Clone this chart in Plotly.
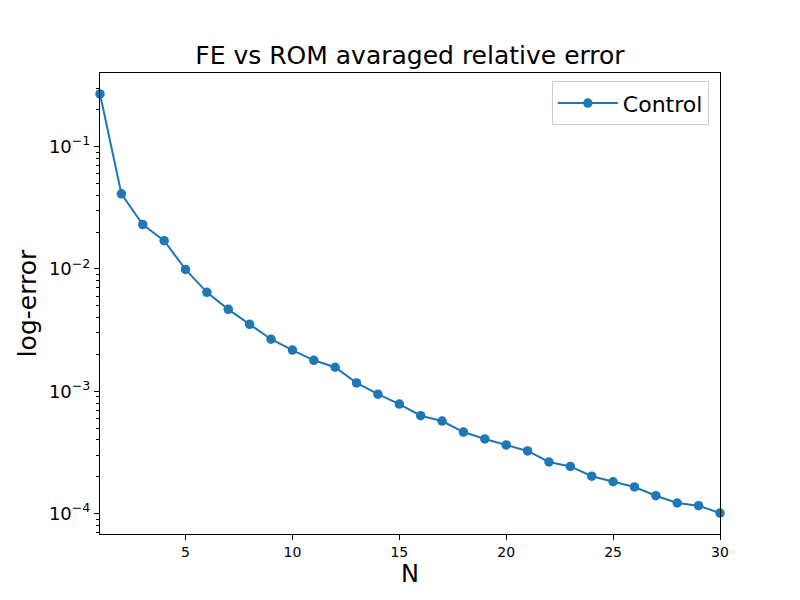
import numpy as np
import plotly.graph_objects as go

# reduced basis size
n_values = list(range(1, 31))

# averaged relative error FE vs ROM
control_error = [
    0.269, 0.0411, 0.0230, 0.0170, 0.00989, 0.00643, 0.00467, 0.00352, 0.00266, 0.00217,
    0.00179, 0.00157, 0.00117, 0.000946, 0.000785, 0.000631, 0.000571, 0.000464, 0.000407, 0.000364,
    0.000325, 0.000264, 0.000243, 0.000202, 0.000182, 0.000165, 0.000140, 0.000122, 0.000116, 0.000101,
]

y_tick_vals = [1e-4, 1e-3, 1e-2, 1e-1]
y_tick_text = ["10<sup>\u22124</sup>", "10<sup>\u22123</sup>", "10<sup>\u22122</sup>", "10<sup>\u22121</sup>"]
x_tick_vals = [5, 10, 15, 20, 25, 30]

blue = "#1f77b4"
font = "DejaVu Sans"

# matplotlib-like 5% margin in log space
lo, hi = np.log10(min(control_error)), np.log10(max(control_error))
pad = 0.05 * (hi - lo)

fig = go.Figure()
fig.add_trace(go.Scatter(
    x=n_values, y=control_error,
    mode="lines+markers",
    name="Control",
    line=dict(color=blue, width=2),
    marker=dict(color=blue, size=9.5),
    cliponaxis=False,
))

fig.update_layout(
    width=800, height=600,
    margin=dict(l=92, r=88, t=65, b=74),
    plot_bgcolor="white", paper_bgcolor="white",
    font=dict(family=font, color="black"),
    title=dict(text="FE vs ROM avaraged relative error", x=0.5, xref="paper",
               y=1 - 47 / 600, yanchor="middle", font=dict(size=25, color="black")),
    showlegend=True,
    legend=dict(x=0.982, y=0.982, xanchor="right", yanchor="top",
                bordercolor="#cccccc", borderwidth=1, bgcolor="white",
                font=dict(size=22), itemwidth=60),
    xaxis=dict(
        range=[1, 30], tickvals=x_tick_vals, ticks="outside", ticklen=5,
        tickcolor="black", tickfont=dict(size=14),
        showgrid=False, zeroline=False, showline=True, mirror=True,
        linecolor="black", linewidth=1,
        title=dict(text="N", font=dict(size=24), standoff=3),
    ),
    yaxis=dict(
        type="log", range=[lo - pad, hi + pad],
        tickvals=y_tick_vals, ticktext=y_tick_text,
        ticks="outside", ticklen=5, tickcolor="black", tickfont=dict(size=18),
        minor=dict(dtick="D1", ticks="outside", ticklen=3, tickcolor="black", showgrid=False),
        showgrid=False, zeroline=False, showline=True, mirror=True,
        linecolor="black", linewidth=1,
        title=dict(text="log-error", font=dict(size=25), standoff=5),
    ),
)

fig.write_html("out.html")
